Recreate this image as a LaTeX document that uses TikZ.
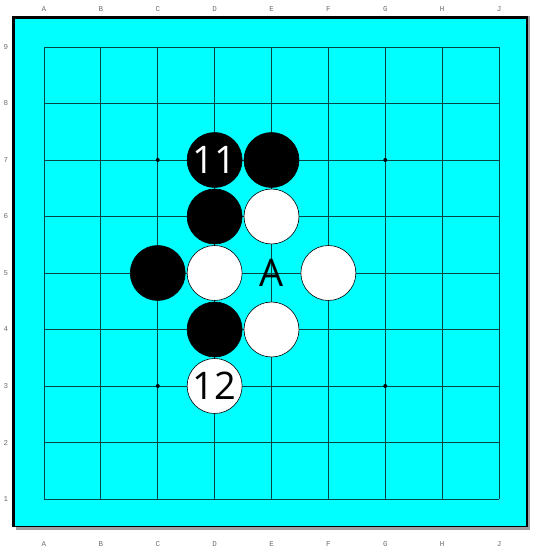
\documentclass[tikz,border=0pt]{standalone}
\usepackage{fontspec}
\setmainfont{Open Sans}
\newfontfamily\labfont{Liberation Mono}
\definecolor{boardcyan}{RGB}{0,255,255}
\definecolor{gridc}{RGB}{0,70,70}
\definecolor{labgray}{RGB}{110,110,110}
\definecolor{shadowgray}{RGB}{160,160,160}
\begin{document}
\begin{tikzpicture}[x=1pt,y=1pt,
  bstone/.style={circle,fill=black,draw=black,line width=0.6pt,minimum size=55pt,inner sep=0pt,text=white,font=\fontsize{38}{38}\selectfont},
  wstone/.style={circle,fill=white,draw=black,line width=0.6pt,minimum size=55pt,inner sep=0pt,text=black,font=\fontsize{38}{38}\selectfont},
  marklab/.style={inner sep=0pt,font=\fontsize{38}{38}\selectfont},
  coordlab/.style={inner sep=0pt,text=labgray,font=\labfont\fontsize{7.5}{8}\selectfont},
  gridline/.style={draw=gridc,line width=0.9pt}]
\useasboundingbox (0,0) rectangle (540,550);
% shadow
\fill[shadowgray] (16,20) rectangle (530,534);
% board
\fill[black] (12,23) rectangle (528,534);
\fill[boardcyan] (15,23.5) rectangle (526,531);
% grid
\foreach \i in {0,...,8} {
  \pgfmathsetmacro\xx{44+56.875*\i}
  \draw[gridline] (\xx,51) -- (\xx,503);
  \pgfmathsetmacro\yy{51+56.5*\i}
  \draw[gridline] (44,\yy) -- (499,\yy);
}
% star points
\foreach \p in {(157.75,390),(385.25,390),(157.75,164),(385.25,164)}
  \fill[black] \p circle (2pt);
% coordinates
\foreach \l [count=\i from 0] in {A,B,C,D,E,F,G,H,J} {
  \pgfmathsetmacro\xx{44+56.875*\i}
  \node[coordlab] (top\l) at (\xx,541) {\l};
  \node[coordlab] (bot\l) at (\xx,6) {\l};
}
\foreach \r in {1,...,9} {
  \pgfmathsetmacro\yy{51+56.5*(\r-1)}
  \node[coordlab] (row\r) at (6,\yy) {\r};
}
% stones  (x: C=157.75 D=214.625 E=271.5 F=328.375; y: 7=390 6=333.5 5=277 4=220.5 3=164)
\node[bstone] (D7) at (214.625,390) {11};
\node[bstone] (E7) at (271.5,390) {};
\node[bstone] (D6) at (214.625,333.5) {};
\node[wstone] (E6) at (271.5,333.5) {};
\node[bstone] (C5) at (157.75,277) {};
\node[wstone] (D5) at (214.625,277) {};
\node[marklab] (E5) at (271.5,277) {A};
\node[wstone] (F5) at (328.375,277) {};
\node[bstone] (D4) at (214.625,220.5) {};
\node[wstone] (E4) at (271.5,220.5) {};
\node[wstone] (D3) at (214.625,164) {12};
\end{tikzpicture}
\end{document}
